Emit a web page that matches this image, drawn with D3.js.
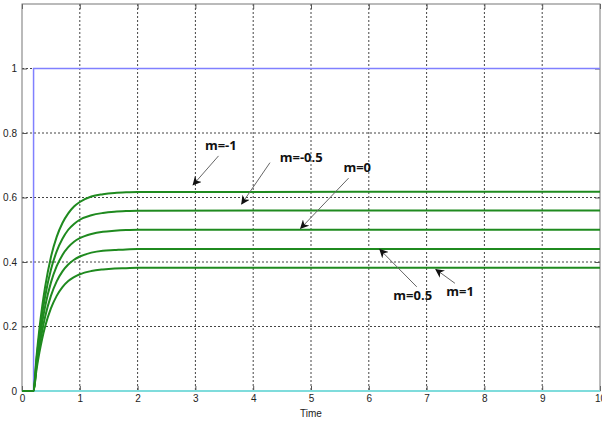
<!DOCTYPE html>
<html>
<head>
<meta charset="utf-8">
<script src="https://cdn.jsdelivr.net/npm/d3@7"></script>
<style>
  body { margin: 0; background: #fff; }
  svg { display: block; }
  .tick text { font-family: "Liberation Sans", Arial, sans-serif; font-size: 10px; fill: #222; }
  .note { font-family: "Open Sans", "DejaVu Sans", sans-serif; font-size: 13px; font-weight: bold; fill: #111; }
</style>
</head>
<body>
<div id="chart"></div>
<script>
// data
const xTicks = [0, 1, 2, 3, 4, 5, 6, 7, 8, 9, 10];
const yTicks = [0, 0.2, 0.4, 0.6, 0.8, 1];

const stepTime  = [0, 0.2, 0.2, 10];
const stepValue = [0, 0, 1, 1];

const baseTime  = [0, 10];
const baseValue = [0, 0];

const respTime = [0, 0.2, 0.25, 0.3, 0.35, 0.4, 0.5, 0.6, 0.7, 0.8, 0.9, 1.0, 1.2, 1.4, 1.6, 1.8, 2.0, 10];
const mMinus1   = [0, 0, 0.104, 0.191, 0.263, 0.323, 0.415, 0.478, 0.521, 0.551, 0.572, 0.586, 0.603, 0.610, 0.614, 0.616, 0.617, 0.618];
const mMinus05  = [0, 0, 0.095, 0.173, 0.239, 0.293, 0.376, 0.433, 0.472, 0.500, 0.518, 0.531, 0.545, 0.552, 0.556, 0.558, 0.559, 0.560];
const mZero     = [0, 0, 0.085, 0.155, 0.213, 0.262, 0.336, 0.387, 0.422, 0.446, 0.463, 0.474, 0.487, 0.494, 0.497, 0.499, 0.500, 0.500];
const mPlus05   = [0, 0, 0.074, 0.136, 0.187, 0.230, 0.295, 0.340, 0.371, 0.392, 0.407, 0.417, 0.429, 0.435, 0.437, 0.439, 0.440, 0.440];
const mPlus1    = [0, 0, 0.065, 0.118, 0.163, 0.200, 0.256, 0.295, 0.322, 0.341, 0.353, 0.362, 0.372, 0.377, 0.380, 0.381, 0.382, 0.382];

const noteLabels = ['m=-1', 'm=-0.5', 'm=0', 'm=0.5', 'm=1'];
const noteTextT  = [3.44, 4.83, 5.80, 6.76, 7.58];
const noteTextV  = [0.747, 0.710, 0.679, 0.282, 0.295];
const arrowFromT = [3.40, 4.29, 5.65, 6.83, 7.49];
const arrowFromV = [0.729, 0.708, 0.660, 0.323, 0.334];
const arrowToT   = [2.96, 3.80, 4.82, 6.19, 7.16];
const arrowToV   = [0.639, 0.580, 0.504, 0.439, 0.377];

const W = 602, H = 421;
const margin = { top: 4, right: 2, bottom: 30, left: 22 };
const width = W - margin.left - margin.right;
const height = H - margin.top - margin.bottom;

const svg = d3.select('#chart').append('svg')
    .attr('width', W)
    .attr('height', H);

const defs = svg.append('defs');
defs.append('marker')
    .attr('id', 'head')
    .attr('viewBox', '0 0 10 10')
    .attr('refX', 9).attr('refY', 5)
    .attr('markerWidth', 9).attr('markerHeight', 9)
    .attr('markerUnits', 'userSpaceOnUse')
    .attr('orient', 'auto')
    .append('path')
    .attr('d', 'M0,0 L10,5 L0,10 L3,5 Z')
    .attr('fill', '#111');

const g = svg.append('g').attr('transform', `translate(${margin.left},${margin.top})`);

const x = d3.scaleLinear().domain([0, 10]).range([0, width]);
const y = d3.scaleLinear().domain([0, 1.2]).range([height, 0]);

// grid (dotted)
g.append('g').selectAll('line')
    .data(xTicks.slice(1, -1))
    .enter().append('line')
    .attr('x1', d => x(d)).attr('x2', d => x(d))
    .attr('y1', 0).attr('y2', height)
    .attr('stroke', '#444').attr('stroke-dasharray', '2,2');
g.append('g').selectAll('line')
    .data(yTicks.slice(1))
    .enter().append('line')
    .attr('y1', d => y(d)).attr('y2', d => y(d))
    .attr('x1', 0).attr('x2', width)
    .attr('stroke', '#444').attr('stroke-dasharray', '2,2');

// axes with inward ticks
const xAxis = g.append('g')
    .attr('transform', `translate(0,${height})`)
    .call(d3.axisBottom(x).tickValues(xTicks).tickSizeInner(-5).tickSizeOuter(0).tickPadding(4).tickFormat(d3.format('d')));
const xTop = g.append('g')
    .call(d3.axisTop(x).tickValues(xTicks).tickSizeInner(-5).tickSizeOuter(0).tickFormat(''));
const yAxis = g.append('g')
    .call(d3.axisLeft(y).tickValues(yTicks).tickSizeInner(-5).tickSizeOuter(0).tickPadding(5).tickFormat(d3.format('')));
const yRight = g.append('g')
    .attr('transform', `translate(${width},0)`)
    .call(d3.axisRight(y).tickValues(yTicks).tickSizeInner(-5).tickSizeOuter(0).tickFormat(''));
[xAxis, xTop, yAxis, yRight].forEach(a => {
    a.select('.domain').remove();
    a.selectAll('.tick line').attr('stroke', '#555');
});

// frame
g.append('rect')
    .attr('x', 0).attr('y', 0)
    .attr('width', width).attr('height', height)
    .attr('fill', 'none').attr('stroke', '#777');

svg.append('text')
    .attr('x', margin.left + x(5)).attr('y', H - 4)
    .attr('text-anchor', 'middle')
    .style('font-family', '"Liberation Sans", Arial, sans-serif')
    .style('font-size', '10px').style('fill', '#222')
    .text('Time');

const line = d3.line().x(d => x(d[0])).y(d => y(d[1]));
const smooth = d3.line().x(d => x(d[0])).y(d => y(d[1])).curve(d3.curveMonotoneX);

g.append('path')
    .datum(d3.zip(baseTime, baseValue))
    .attr('d', line).attr('fill', 'none')
    .attr('stroke', '#7fdcdc').attr('stroke-width', 2);

g.append('path')
    .datum(d3.zip(stepTime, stepValue))
    .attr('d', line).attr('fill', 'none')
    .attr('stroke', '#8080ff').attr('stroke-width', 1.5);

[mMinus1, mMinus05, mZero, mPlus05, mPlus1].forEach(vals => {
    g.append('path')
        .datum(d3.zip(respTime, vals))
        .attr('d', smooth).attr('fill', 'none')
        .attr('stroke', '#1f8a1f').attr('stroke-width', 2);
});

// annotations
noteLabels.forEach((label, i) => {
    g.append('line')
        .attr('x1', x(arrowFromT[i])).attr('y1', y(arrowFromV[i]))
        .attr('x2', x(arrowToT[i])).attr('y2', y(arrowToV[i]))
        .attr('stroke', '#666').attr('stroke-width', 1)
        .attr('marker-end', 'url(#head)');
    g.append('text')
        .attr('class', 'note')
        .attr('x', x(noteTextT[i])).attr('y', y(noteTextV[i]))
        .attr('text-anchor', 'middle')
        .text(label);
});
</script>
</body>
</html>
